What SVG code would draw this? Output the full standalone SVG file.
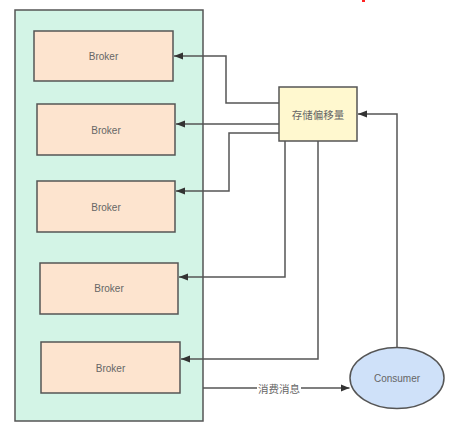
<svg xmlns="http://www.w3.org/2000/svg" width="458" height="435" viewBox="0 0 458 435">
<style>
.box{stroke:#555;stroke-width:1.5}
.broker{fill:#fde4cf}
.lbl{font-family:"Liberation Sans","Noto Sans CJK SC",sans-serif;font-size:10px;fill:#666;text-anchor:middle;dominant-baseline:central}
.cn{font-family:"Noto Sans CJK SC","Liberation Sans",sans-serif;font-size:10.5px;fill:#666;text-anchor:middle;dominant-baseline:central}
.con{fill:none;stroke:#555;stroke-width:1.5}
</style>
<defs>
<marker id="ah" viewBox="0 0 10 10" refX="10" refY="5" markerWidth="9" markerHeight="9" markerUnits="userSpaceOnUse" orient="auto">
<path d="M0,1 L10,5 L0,9 Z" fill="#333"/>
</marker>
</defs>
<rect width="458" height="435" fill="#fff"/>
<rect x="362" y="0" width="3" height="2" fill="#f22"/>
<g id="cluster"><rect class="box" x="15" y="10" width="188" height="411" fill="#d3f4e6"/></g>
<g id="broker1"><rect class="box broker" x="34" y="31" width="139" height="50"/><text class="lbl" x="103.5" y="56">Broker</text></g>
<g id="broker2"><rect class="box broker" x="37" y="104" width="138" height="51"/><text class="lbl" x="106" y="130">Broker</text></g>
<g id="broker3"><rect class="box broker" x="37" y="181" width="138" height="51"/><text class="lbl" x="106" y="207">Broker</text></g>
<g id="broker4"><rect class="box broker" x="40" y="263" width="138" height="51"/><text class="lbl" x="109" y="288.5">Broker</text></g>
<g id="broker5"><rect class="box broker" x="41" y="342" width="139" height="51"/><text class="lbl" x="110.5" y="368">Broker</text></g>
<g id="offset"><rect class="box" x="279" y="87" width="78" height="54" fill="#fff8cf"/><text class="cn" x="318" y="114">存储偏移量</text></g>
<g id="consumer"><ellipse class="box" cx="397" cy="378" rx="47" ry="30.5" fill="#cfe1f9"/><text class="lbl" x="397" y="378.5">Consumer</text></g>
<g id="connectors">
<path class="con" d="M279,103 H226 V56 H174" marker-end="url(#ah)"/>
<path class="con" d="M279,124 H176" marker-end="url(#ah)"/>
<path class="con" d="M279,133 H229 V191 H176" marker-end="url(#ah)"/>
<path class="con" d="M285,141 V277 H179" marker-end="url(#ah)"/>
<path class="con" d="M318,141 V359 H181" marker-end="url(#ah)"/>
<path class="con" d="M397,347.5 V114 H358" marker-end="url(#ah)"/>
<path class="con" d="M203,388 H257 M301,388 H349.5" marker-end="url(#ah)"/>
<text class="cn" x="279" y="388">消费消息</text>
</g>
</svg>
